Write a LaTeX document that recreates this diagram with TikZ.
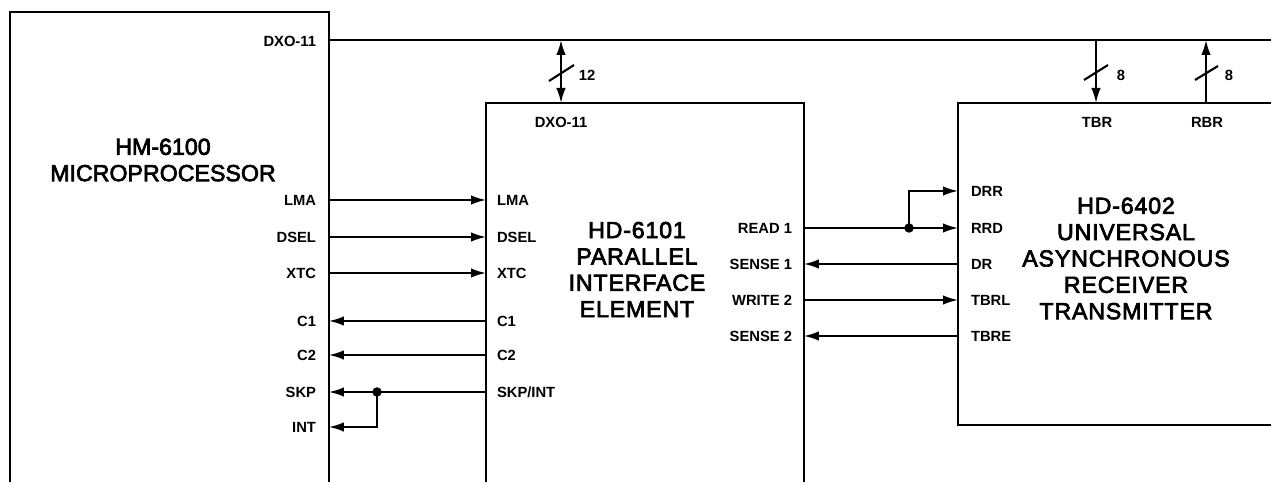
\documentclass[tikz,border=0pt]{standalone}
\usepackage{fontspec}
\setmainfont{Liberation Sans}
\newfontfamily\titfont[FakeBold=3]{Liberation Sans}
\newfontfamily\titesp[FakeBold=3,LetterSpace=3.5]{Liberation Sans}
\usepackage{tikz}
\usetikzlibrary{arrows.meta}

\begin{document}
\begin{tikzpicture}[
  x=0.02cm, y=-0.02cm,
  bloque/.style={draw, line width=1.1pt, anchor=north west, outer sep=0pt, inner sep=0pt},
  linea/.style={line width=1.1pt},
  flecha/.style={linea, -{Latex[length=3mm, width=1.9mm]}},
  doble/.style={linea, {Latex[length=3mm, width=1.9mm]}-{Latex[length=3mm, width=1.9mm]}},
  barra/.style={line width=1.2pt},
  etiq/.style={font=\fontsize{8.4}{9}\selectfont\bfseries, text height=6pt, text depth=0pt, inner sep=0pt, outer sep=0pt},
  izq/.style={etiq, anchor=west},
  der/.style={etiq, anchor=east},
  titulo/.style={font=\fontsize{13.2}{15}\selectfont\titfont, align=center, inner sep=0pt},
  titulob/.style={font=\fontsize{13.2}{15}\selectfont\titesp, align=center, inner sep=0pt},
  punto/.style={circle, fill, inner sep=0pt, minimum size=0.19cm, outer sep=0pt}
]
  \useasboundingbox (0,0) rectangle (1271,482);
  \clip (0,0) rectangle (1271,482);

  \node[bloque, minimum width=6.38cm, minimum height=10cm] (hm) at (10,12) {};
  \node[bloque, minimum width=6.36cm, minimum height=9cm] (pie) at (486,103) {};
  \node[bloque, minimum width=8cm, minimum height=6.44cm] (uart) at (958,103) {};

  \node[titulo] (hmtit) at (163,160) {HM-6100\\MICROPROCESSOR};
  \node[titulob] (pietit) at (637,269.5) {HD-6101\\PARALLEL\\INTERFACE\\ELEMENT};
  \node[titulob] (uarttit) at (1126,258.5) {HD-6402\\UNIVERSAL\\ASYNCHRONOUS\\RECEIVER\\TRANSMITTER};

  \node[der] (hdxo) at (316,41) {DXO-11};
  \node[der] (hlma) at (316,200) {LMA};
  \node[der] (hdsel) at (316,237) {DSEL};
  \node[der] (hxtc) at (316,273) {XTC};
  \node[der] (hc1) at (316,321) {C1};
  \node[der] (hc2) at (316,355) {C2};
  \node[der] (hskp) at (316,392) {SKP};
  \node[der] (hint) at (316,427) {INT};

  \node[etiq] (pdxo) at (561,122) {DXO-11};
  \node[izq] (plma) at (497,200) {LMA};
  \node[izq] (pdsel) at (497,237) {DSEL};
  \node[izq] (pxtc) at (497,273) {XTC};
  \node[izq] (pc1) at (497,321) {C1};
  \node[izq] (pc2) at (497,355) {C2};
  \node[izq] (pskp) at (497,392) {SKP/INT};
  \node[der] (pread) at (792,228) {READ 1};
  \node[der] (psen1) at (792,264) {SENSE 1};
  \node[der] (pwrite) at (792,300) {WRITE 2};
  \node[der] (psen2) at (792,336) {SENSE 2};

  \node[etiq] (utbr) at (1097,122) {TBR};
  \node[etiq] (urbr) at (1207,122) {RBR};
  \node[izq] (udrr) at (971,191) {DRR};
  \node[izq] (urrd) at (971,228) {RRD};
  \node[izq] (udr) at (971,264) {DR};
  \node[izq] (utbrl) at (971,300) {TBRL};
  \node[izq] (utbre) at (971,336) {TBRE};

  \coordinate (busfin) at (1271,40);
  \draw[linea] (hm.east |- busfin) -- (busfin);
  \coordinate (bus12) at (561,40);
  \coordinate (bustbr) at (1096,40);
  \coordinate (busrbr) at (1206,40);
  \draw[doble] (bus12) -- (bus12 |- pie.north);
  \draw[flecha] (bustbr) -- (bustbr |- uart.north);
  \draw[flecha] (busrbr |- uart.north) -- (busrbr);

  \coordinate (bar12a) at (549,81);
  \coordinate (bar12b) at (574,65);
  \draw[barra] (bar12a) -- (bar12b);
  \coordinate (bartbra) at (1084,80);
  \coordinate (bartbrb) at (1108,65);
  \draw[barra] (bartbra) -- (bartbrb);
  \coordinate (barrbra) at (1195,80);
  \coordinate (barrbrb) at (1218,66);
  \draw[barra] (barrbra) -- (barrbrb);
  \node[etiq] (n12) at (587,75) {12};
  \node[etiq] (n8a) at (1121,75) {8};
  \node[etiq] (n8b) at (1229,75) {8};

  \draw[flecha] (hm.east |- hlma) -- (pie.west |- plma);
  \draw[flecha] (hm.east |- hdsel) -- (pie.west |- pdsel);
  \draw[flecha] (hm.east |- hxtc) -- (pie.west |- pxtc);
  \draw[flecha] (pie.west |- pc1) -- (hm.east |- hc1);
  \draw[flecha] (pie.west |- pc2) -- (hm.east |- hc2);

  \node[punto] (jskp) at (377,392) {};
  \draw[flecha] (pie.west |- pskp) -- (hm.east |- hskp);
  \draw[flecha] (jskp.center) |- (hm.east |- hint);

  \node[punto] (jread) at (909,228) {};
  \draw[flecha] (pie.east |- pread) -- (uart.west |- urrd);
  \draw[flecha] (jread.center) |- (uart.west |- udrr);
  \draw[flecha] (uart.west |- udr) -- (pie.east |- psen1);
  \draw[flecha] (pie.east |- pwrite) -- (uart.west |- utbrl);
  \draw[flecha] (uart.west |- utbre) -- (pie.east |- psen2);
\end{tikzpicture}
\end{document}
